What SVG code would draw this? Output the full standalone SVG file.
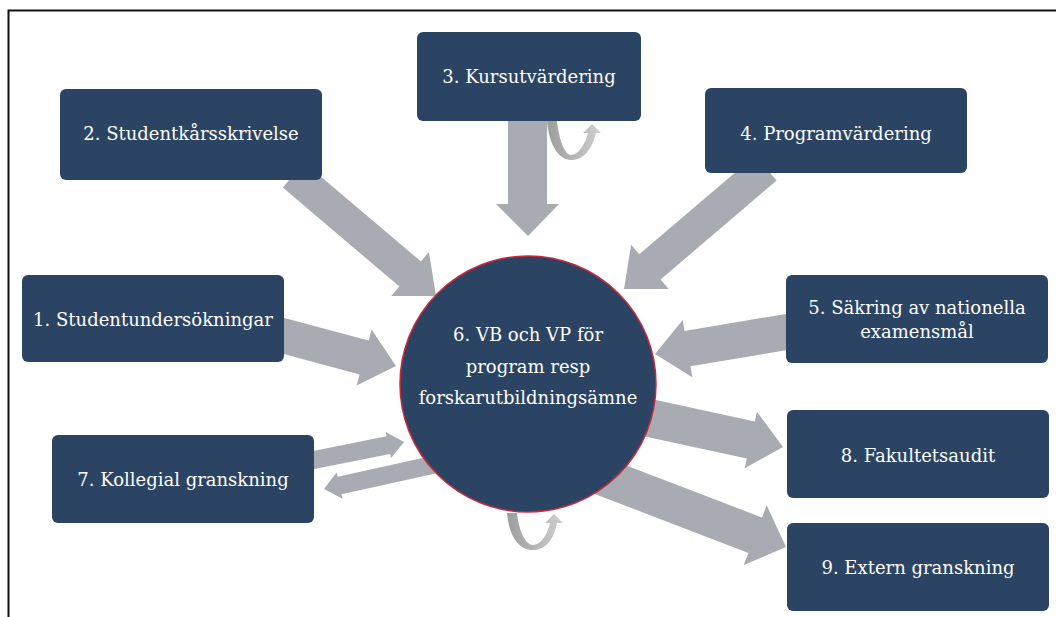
<svg xmlns="http://www.w3.org/2000/svg" width="1056" height="617" viewBox="0 0 1056 617">
  <style>
    .box { fill: #2b4463; }
    .hub { fill: #2b4463; stroke: #c8283c; stroke-width: 1.5; }
    .lbl { fill: #ffffff; font-family: "DejaVu Serif", "Liberation Serif", serif; font-size: 18px; text-anchor: middle; }
    .arrow { fill: #a8acb2; }
    .loop { fill: url(#loopShade); }
    .frame { fill: none; stroke: #111111; stroke-width: 2; }
  </style>
  <defs>
    <linearGradient id="loopShade" x1="0" y1="0" x2="1" y2="0">
      <stop offset="0" stop-color="#9c9c9c"/>
      <stop offset="1" stop-color="#cfcfcf"/>
    </linearGradient>
  </defs>

  <rect width="1056" height="617" fill="#ffffff"/>
  <!-- outer frame: only the top and left edges fall inside the canvas -->
  <path class="frame" d="M8.5,617 L8.5,10.5 L1056,10.5"/>

  <g id="connectors">
    <!-- 3 -> 6 -->
    <polygon class="arrow" points="508,118 547,118 547,204 559,204 528,236 496,204 508,204"/>
    <!-- 2 -> 6 -->
    <polygon class="arrow" points="304.2,162.4 420.8,261.4 428.9,251.9 436,296 391.3,296.1 399.4,286.6 282.8,187.6"/>
    <!-- 4 -> 6 -->
    <polygon class="arrow" points="755.2,155.4 639.2,254.3 631.1,244.8 624,289 668.7,289 660.6,279.5 776.6,180.6"/>
    <!-- 1 -> 6 -->
    <polygon class="arrow" points="282.5,317.5 368.6,340.6 371.6,329.5 396,366 356.6,385.5 359.6,374.4 273.5,351.3"/>
    <!-- 5 -> 6 -->
    <polygon class="arrow" points="789,313.4 684.5,330.9 682.7,320 655,354 692.3,377.2 690.5,366.3 795,348.8"/>
    <!-- 6 -> 8 -->
    <polygon class="arrow" points="591.6,386 754.8,421.4 756.9,411.7 783,447 744.7,468.3 746.8,458.6 583.6,423.2"/>
    <!-- 6 -> 9 -->
    <polygon class="arrow" points="587.3,450.5 762,517.5 766.7,505.3 786,547 743.7,565.1 748.4,552.9 573.7,485.9"/>
    <!-- 7 <-> 6 -->
    <polygon class="arrow" points="303.2,453 386.5,436.3 385.7,431.9 404,442 390.9,458.3 390.1,453.9 306.8,470.6"/>
    <polygon class="arrow" points="444.1,453.2 337.7,476.7 336.7,472.3 324,489 342.5,498.7 341.5,494.3 447.9,470.8"/>
    <!-- feedback loops -->
    <path class="loop" d="M547,121 L557,121 C559,140 565,155 571,155 C578,155 585,145 588,133 L583,133 L592,124 L601,133 L596,133 C592,150 583,160 571,160 C559,160 549,145 547,121 Z"/>
    <path class="loop" d="M507,513 L517,513 C519,532 526,545 533,545 C540,545 547,536 550,523 L545,523 L554,514 L563,523 L557,523 C554,540 545,550 533,550 C518,550 509,535 507,513 Z"/>
  </g>

  <g id="node-6">
    <circle class="hub" cx="528" cy="384" r="128"/>
    <text class="lbl" x="528" y="341">6. VB och VP för</text>
    <text class="lbl" x="528" y="373">program resp</text>
    <text class="lbl" x="528" y="404">forskarutbildningsämne</text>
  </g>
  <g id="node-3">
    <rect class="box" x="417" y="32" width="224" height="89" rx="6"/>
    <text class="lbl" x="529" y="83">3. Kursutvärdering</text>
  </g>
  <g id="node-2">
    <rect class="box" x="60" y="89" width="262" height="91" rx="6"/>
    <text class="lbl" x="191" y="140">2. Studentkårsskrivelse</text>
  </g>
  <g id="node-4">
    <rect class="box" x="705" y="88" width="262" height="85" rx="6"/>
    <text class="lbl" x="836" y="140">4. Programvärdering</text>
  </g>
  <g id="node-1">
    <rect class="box" x="22" y="275" width="262" height="87" rx="6"/>
    <text class="lbl" x="153" y="326">1. Studentundersökningar</text>
  </g>
  <g id="node-5">
    <rect class="box" x="786" y="275" width="262" height="88" rx="6"/>
    <text class="lbl" x="917" y="314">5. Säkring av nationella</text>
    <text class="lbl" x="917" y="338">examensmål</text>
  </g>
  <g id="node-7">
    <rect class="box" x="52" y="435" width="262" height="88" rx="6"/>
    <text class="lbl" x="183" y="486">7. Kollegial granskning</text>
  </g>
  <g id="node-8">
    <rect class="box" x="787" y="410" width="262" height="88" rx="6"/>
    <text class="lbl" x="918" y="462">8. Fakultetsaudit</text>
  </g>
  <g id="node-9">
    <rect class="box" x="787" y="523" width="262" height="88" rx="6"/>
    <text class="lbl" x="918" y="574">9. Extern granskning</text>
  </g>
</svg>
